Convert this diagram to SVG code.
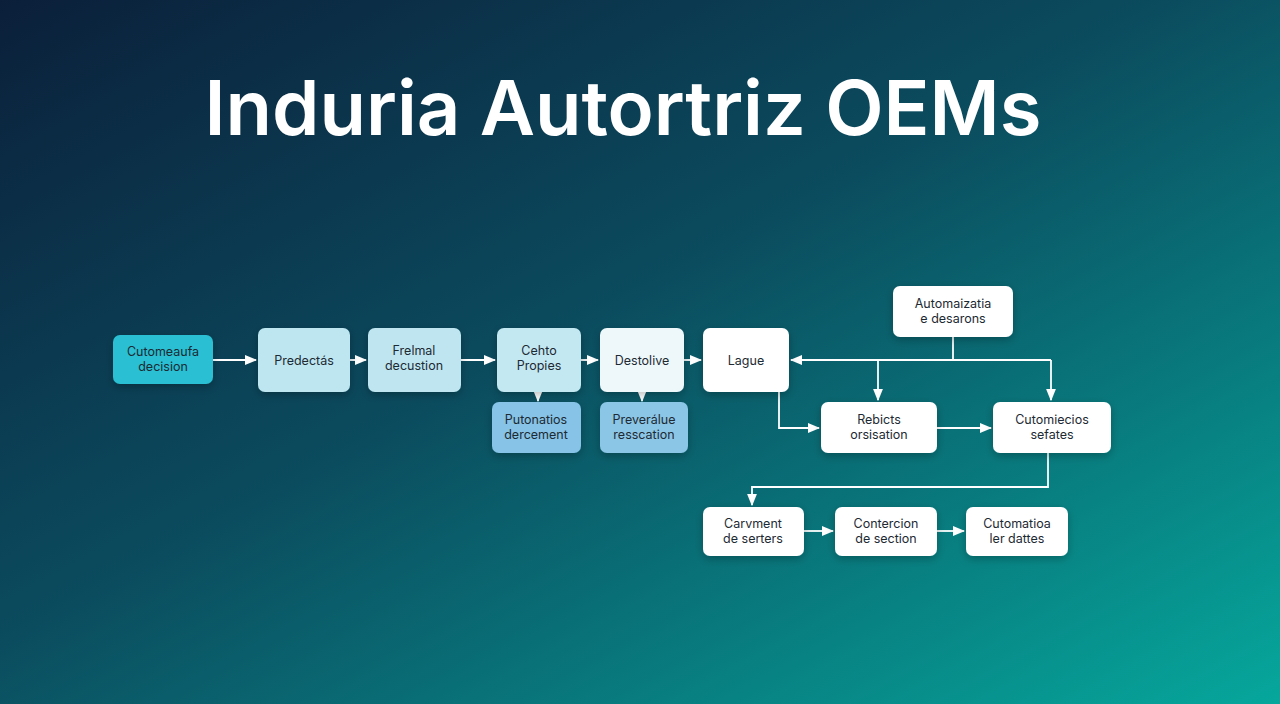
<svg xmlns="http://www.w3.org/2000/svg" width="1280" height="704" viewBox="0 0 1280 704">
<defs>
<linearGradient id="bg" x1="0" y1="0" x2="1" y2="1">
<stop offset="0" stop-color="#0b1f3a"/>
<stop offset="0.45" stop-color="#0b4b5e"/>
<stop offset="1" stop-color="#06a79c"/>
</linearGradient>
<marker id="ah" viewBox="0 0 10 10" refX="9" refY="5" markerWidth="7" markerHeight="7" orient="auto-start-reverse">
<path d="M0,1 L10,5 L0,9 z" fill="#ffffff"/>
</marker>
<filter id="sh" x="-20%" y="-20%" width="140%" height="160%"><feDropShadow dx="0" dy="3" stdDeviation="4" flood-color="#000" flood-opacity="0.25"/></filter>
</defs>
<style>
.n rect{filter:url(#sh)}
.n text{font-family:"Inter","Liberation Sans",sans-serif;font-size:12.5px;fill:#1d2a33;text-anchor:middle}
.c path{fill:none;stroke:#ffffff;stroke-width:1.8;marker-end:url(#ah)}
.c .p{marker-end:none}
</style>
<rect width="1280" height="704" fill="url(#bg)"/>
<text x="623" y="135" font-family="Inter,'Liberation Sans',sans-serif" font-size="76" font-weight="600" fill="#ffffff" text-anchor="middle">Induria Autortriz OEMs</text>
<g class="c">
<path d="M213,360 H256"/>
<path d="M350,360 H366"/>
<path d="M461,360 H495"/>
<path d="M581,360 H598"/>
<path d="M684,360 H701"/>
<path d="M538,392 V401"/>
<path d="M642,392 V401"/>
<path class="p" d="M953,337 V360"/>
<path d="M1051,360 H791"/>
<path d="M878,360 V400"/>
<path d="M1051,360 V400"/>
<path d="M779,392 V428 H819"/>
<path d="M937,428 H991"/>
<path d="M1048,453 V487 H752 V505"/>
<path d="M804,531 H833"/>
<path d="M937,531 H964"/>
</g>
<g id="n1" class="n"><rect x="113" y="335" width="100" height="49" rx="7" fill="#2bbfd2"/><text x="163" y="356">Cutomeaufa</text><text x="163" y="371">decision</text></g>
<g id="n2" class="n"><rect x="258" y="328" width="92" height="64" rx="7" fill="#bde6f0"/><text x="304" y="365">Predectás</text></g>
<g id="n3" class="n"><rect x="368" y="328" width="93" height="64" rx="7" fill="#bfe6f0"/><text x="414" y="355">Frelmal</text><text x="414" y="370">decustion</text></g>
<g id="n4" class="n"><rect x="497" y="328" width="84" height="64" rx="7" fill="#c4e8f2"/><text x="539" y="355">Cehto</text><text x="539" y="370">Propies</text></g>
<g id="n5" class="n"><rect x="600" y="328" width="84" height="64" rx="7" fill="#eef8fb"/><text x="642" y="365">Destolive</text></g>
<g id="n6" class="n"><rect x="703" y="328" width="86" height="64" rx="7" fill="#ffffff"/><text x="746" y="365">Lague</text></g>
<g id="n7" class="n"><rect x="492" y="402" width="89" height="51" rx="7" fill="#86c3e6"/><text x="536" y="424">Putonatios</text><text x="536" y="439">dercement</text></g>
<g id="n8" class="n"><rect x="600" y="402" width="88" height="51" rx="7" fill="#8cc6e6"/><text x="644" y="424">Preverálue</text><text x="644" y="439">resscation</text></g>
<g id="n9" class="n"><rect x="893" y="286" width="120" height="51" rx="7" fill="#ffffff"/><text x="953" y="308">Automaizatia</text><text x="953" y="323">e desarons</text></g>
<g id="n10" class="n"><rect x="821" y="402" width="116" height="51" rx="7" fill="#ffffff"/><text x="879" y="424">Rebicts</text><text x="879" y="439">orsisation</text></g>
<g id="n11" class="n"><rect x="993" y="402" width="118" height="51" rx="7" fill="#ffffff"/><text x="1052" y="424">Cutomiecios</text><text x="1052" y="439">sefates</text></g>
<g id="n12" class="n"><rect x="703" y="507" width="101" height="49" rx="7" fill="#ffffff"/><text x="753" y="528">Carvment</text><text x="753" y="543">de serters</text></g>
<g id="n13" class="n"><rect x="835" y="507" width="102" height="49" rx="7" fill="#ffffff"/><text x="886" y="528">Contercion</text><text x="886" y="543">de section</text></g>
<g id="n14" class="n"><rect x="966" y="507" width="102" height="49" rx="7" fill="#ffffff"/><text x="1017" y="528">Cutomatioa</text><text x="1017" y="543">ler dattes</text></g>
</svg>
